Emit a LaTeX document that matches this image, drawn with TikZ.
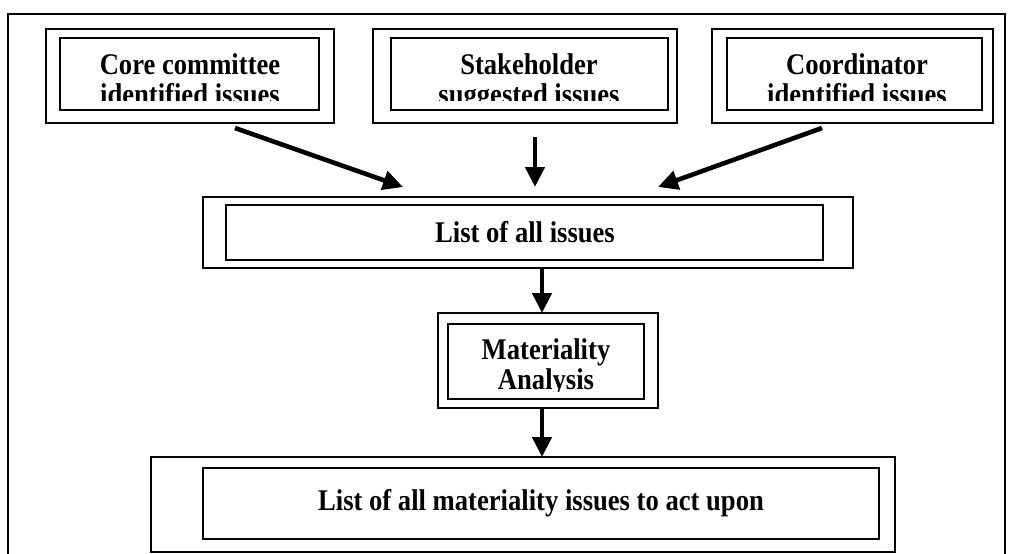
\documentclass[tikz,border=0pt]{standalone}
\usepackage{fontspec}
\setmainfont{Liberation Serif}[FakeStretch=0.887]
\usetikzlibrary{arrows.meta}
\begin{document}
\begin{tikzpicture}[x=1pt,y=-1pt,
  boxline/.style={draw, line width=1.8pt, inner sep=0pt, outer sep=0pt},
  txt/.style={font=\fontsize{30}{30}\selectfont\bfseries, inner sep=0pt, anchor=base},
  arr/.style={line width=4.6pt, -{Triangle[length=20pt,width=19pt]}}]
\useasboundingbox (0,0) rectangle (1009,554);
% frame
\draw[line width=1.8pt] (8,554) -- (8,14) -- (1005,14) -- (1005,554);
% top box 1
\node[boxline, minimum width=288pt, minimum height=94pt] (o1) at (190,76) {};
\node[boxline, minimum width=259pt, minimum height=72pt] (i1) at (189.5,74) {};
\begin{scope}
\clip (60,38) rectangle (319,100);
\node[txt] (t1a) at (190,74) {Core committee};
\node[txt] (t1b) at (190,104) {identified issues};
\end{scope}
% top box 2
\node[boxline, minimum width=304pt, minimum height=94pt] (o2) at (525,76) {};
\node[boxline, minimum width=277pt, minimum height=72pt] (i2) at (529.5,74) {};
\begin{scope}
\clip (391,38) rectangle (668,100);
\node[txt] (t2a) at (529,74) {Stakeholder};
\node[txt] (t2b) at (529,104) {suggested issues};
\end{scope}
% top box 3
\node[boxline, minimum width=281pt, minimum height=94pt] (o3) at (852.5,76) {};
\node[boxline, minimum width=255pt, minimum height=72pt] (i3) at (854.5,74) {};
\begin{scope}
\clip (727,38) rectangle (982,100);
\node[txt] (t3a) at (857,74) {Coordinator};
\node[txt] (t3b) at (857,104) {identified issues};
\end{scope}
% list of all issues
\node[boxline, minimum width=650pt, minimum height=71pt] (lo) at (528,232.5) {};
\node[boxline, minimum width=597pt, minimum height=55pt] (li) at (524.5,232.5) {};
\node[txt] (lt) at (525,242) {List of all issues};
% materiality analysis
\node[boxline, minimum width=220pt, minimum height=95pt] (mo) at (548,360.5) {};
\node[boxline, minimum width=196pt, minimum height=75pt] (mi) at (546,361.5) {};
\begin{scope}
\clip (448,324) rectangle (644,391);
\node[txt] (mta) at (546,359) {Materiality};
\node[txt] (mtb) at (546,389) {Analysis};
\end{scope}
% final list
\node[boxline, minimum width=744pt, minimum height=95pt] (bo) at (523,504.5) {};
\node[boxline, minimum width=676pt, minimum height=71pt] (bi) at (541,503.5) {};
\node[txt] (bt) at (541,510) {List of all materiality issues to act upon};
% connector ends
\coordinate (a1s) at (235,128);
\coordinate (a1e) at (403,187);
\coordinate (a2s) at (535,137);
\coordinate (a2e) at (535,187);
\coordinate (a3s) at (822,128);
\coordinate (a3e) at (658,187);
\coordinate (a4s) at (542,268);
\coordinate (a4e) at (542,313);
\coordinate (a5s) at (542,408);
\coordinate (a5e) at (542,457);
\draw[arr] (a1s) -- (a1e);
\draw[arr] (a2s) -- (a2e);
\draw[arr] (a3s) -- (a3e);
\draw[arr] (a4s) -- (a4e);
\draw[arr] (a5s) -- (a5e);
\end{tikzpicture}
\end{document}
